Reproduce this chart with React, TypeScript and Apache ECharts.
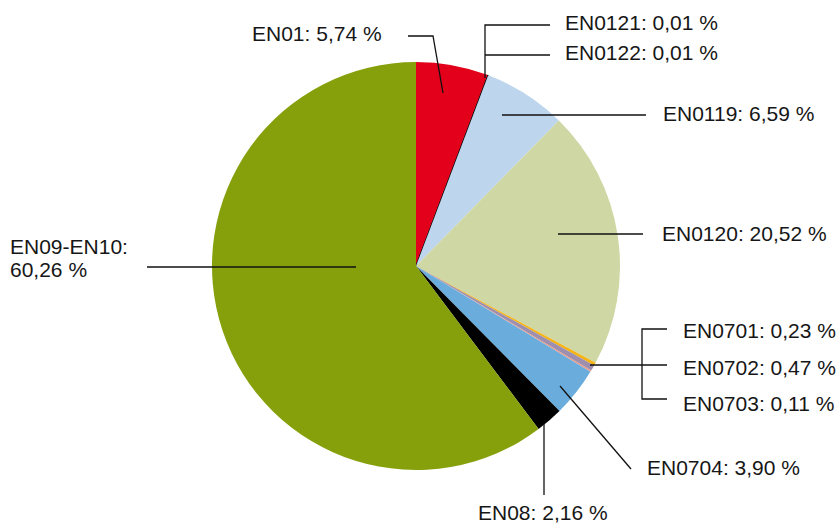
import React, { useEffect, useRef } from "react";
import * as echarts from "echarts";

const categories = ["EN01", "EN0121", "EN0122", "EN0119", "EN0120", "EN0701", "EN0702", "EN0703", "EN0704", "EN08", "EN09-EN10"];
const values = [5.74, 0.01, 0.01, 6.59, 20.52, 0.23, 0.47, 0.11, 3.9, 2.16, 60.26];
const colors = ["#e2001a", "#111111", "#222222", "#bed6ed", "#cfd7a4", "#f6b412", "#9e8fae", "#ee9983", "#6aaddc", "#000000", "#86a00c"];

const fmt = (i: number) => `${categories[i]}: ${values[i].toFixed(2).replace(".", ",")} %`;

export default function App() {
  const ref = useRef<HTMLDivElement>(null);
  useEffect(() => {
    document.body.style.margin = "0";
    const chart = echarts.init(ref.current!, null, { renderer: "svg" });
    const font = { fontFamily: "Liberation Sans, Arial, sans-serif", fontSize: 21, fill: "#161616" };
    const label = (i: number, x: number, y: number, text?: string) => ({
      type: "text",
      x,
      y,
      style: { ...font, text: text ?? fmt(i), textVerticalAlign: "middle", textAlign: "left", lineHeight: 23 },
      z: 10,
    });
    const line = (points: number[][]) => ({
      type: "polyline",
      shape: { points },
      style: { stroke: "#111", lineWidth: 1.3, fill: "none" },
      z: 10,
    });
    chart.setOption({
      animation: false,
      series: [
        {
          type: "pie",
          center: [416, 266],
          radius: 204,
          startAngle: 90,
          clockwise: true,
          label: { show: false },
          labelLine: { show: false },
          emphasis: { disabled: true },
          data: values.map((v, i) => ({
            name: categories[i],
            value: v,
            itemStyle: {
              color: colors[i],
              borderColor: i === 1 || i === 2 ? "#111" : colors[i],
              borderWidth: i === 1 || i === 2 ? 0.8 : 0,
            },
          })),
        },
      ],
      graphic: [
        label(0, 252, 33),
        line([[408, 36], [433, 36], [443, 93]]),
        label(1, 565, 22),
        label(2, 565, 52),
        line([[550, 25], [485, 25], [485, 78]]),
        line([[485, 55], [550, 55]]),
        label(3, 663, 113),
        line([[502, 115], [646, 115]]),
        label(4, 662, 233),
        line([[558, 234], [643, 234]]),
        label(10, 10, 258, `${categories[10]}:\n${values[10].toFixed(2).replace(".", ",")} %`),
        line([[147, 267], [356, 267]]),
        label(5, 683, 330),
        label(6, 683, 367),
        label(7, 683, 403),
        line([[667, 329], [642, 329], [642, 399], [667, 399]]),
        line([[590, 365], [667, 365]]),
        label(8, 647, 467),
        line([[560, 386], [631, 469]]),
        label(9, 478, 512),
        line([[544, 423], [544, 495]]),
      ],
    });
    return () => chart.dispose();
  }, []);
  return <div ref={ref} style={{ width: 840, height: 524 }} />;
}
